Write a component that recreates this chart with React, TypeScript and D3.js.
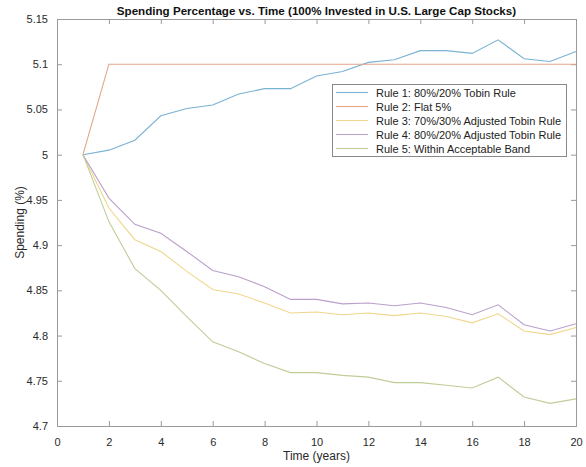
import React, { useEffect, useRef } from "react";
import * as d3 from "d3";

const years = [1, 2, 3, 4, 5, 6, 7, 8, 9, 10, 11, 12, 13, 14, 15, 16, 17, 18, 19, 20];
const rule1 = [5.0, 5.005, 5.016, 5.043, 5.051, 5.055, 5.067, 5.073, 5.073, 5.087, 5.092, 5.102, 5.105, 5.115, 5.115, 5.112, 5.127, 5.106, 5.103, 5.114];
const rule2 = [5.0, 5.1, 5.1, 5.1, 5.1, 5.1, 5.1, 5.1, 5.1, 5.1, 5.1, 5.1, 5.1, 5.1, 5.1, 5.1, 5.1, 5.1, 5.1, 5.1];
const rule3 = [5.0, 4.941, 4.906, 4.893, 4.871, 4.851, 4.846, 4.836, 4.825, 4.826, 4.823, 4.825, 4.822, 4.825, 4.821, 4.814, 4.824, 4.805, 4.801, 4.809];
const rule4 = [5.0, 4.952, 4.923, 4.913, 4.893, 4.872, 4.865, 4.854, 4.840, 4.840, 4.835, 4.836, 4.833, 4.836, 4.831, 4.823, 4.834, 4.812, 4.805, 4.813];
const rule5 = [5.0, 4.926, 4.874, 4.850, 4.821, 4.793, 4.782, 4.769, 4.759, 4.759, 4.756, 4.754, 4.748, 4.748, 4.745, 4.742, 4.754, 4.732, 4.725, 4.730];
const seriesNames = [
  "Rule 1: 80%/20% Tobin Rule",
  "Rule 2: Flat 5%",
  "Rule 3: 70%/30% Adjusted Tobin Rule",
  "Rule 4: 80%/20% Adjusted Tobin Rule",
  "Rule 5: Within Acceptable Band",
];
const seriesColors = ["#79b2d2", "#e2a58a", "#f0d68c", "#baa0ca", "#bfcd98"];
const xTicks = [0, 2, 4, 6, 8, 10, 12, 14, 16, 18, 20];
const yTicks = [4.7, 4.75, 4.8, 4.85, 4.9, 4.95, 5, 5.05, 5.1, 5.15];
const titleText = "Spending Percentage vs. Time (100% Invested in U.S. Large Cap Stocks)";
const xLabel = "Time (years)";
const yLabel = "Spending (%)";

const W = 586;
const H = 467;
const m = { left: 57, right: 576, top: 19, bottom: 426 };
const FONT = "'Liberation Sans', Arial, Helvetica, sans-serif";

export default function App() {
  const ref = useRef<SVGSVGElement | null>(null);
  useEffect(() => {
    const svg = d3.select(ref.current);
    svg.selectAll("*").remove();
    const x = d3.scaleLinear().domain([0, 20]).range([m.left, m.right]);
    const y = d3.scaleLinear().domain([4.7, 5.15]).range([m.bottom, m.top]);
    const allSeries = [rule1, rule2, rule3, rule4, rule5];

    svg.append("rect").attr("x", 0).attr("y", 0).attr("width", W).attr("height", H).attr("fill", "#fff");

    const axisColor = "#9a9a9a";
    const tl = 5;
    const gb = svg.append("g").attr("transform", `translate(0,${m.bottom})`)
      .call(d3.axisBottom(x).tickValues(xTicks).tickSize(-tl).tickPadding(tl + 7).tickFormat(d3.format("d")));
    const gt = svg.append("g").attr("transform", `translate(0,${m.top})`)
      .call(d3.axisTop(x).tickValues(xTicks).tickSize(-tl).tickFormat(() => ""));
    const gl = svg.append("g").attr("transform", `translate(${m.left},0)`)
      .call(d3.axisLeft(y).tickValues(yTicks).tickSize(-tl).tickPadding(tl + 4).tickFormat((d: any) => String(+d)));
    const gr = svg.append("g").attr("transform", `translate(${m.right},0)`)
      .call(d3.axisRight(y).tickValues(yTicks).tickSize(-tl).tickFormat(() => ""));
    [gb, gt, gl, gr].forEach((g) => {
      g.select(".domain").attr("stroke", axisColor).attr("stroke-width", 1);
      g.selectAll(".tick line").attr("stroke", axisColor);
      g.selectAll("text").attr("fill", "#2a2a2a").style("font-family", FONT).style("font-size", "11px");
    });

    const line = d3.line<number>().x((_, i) => x(years[i])).y((d) => y(d));
    allSeries.forEach((s, i) => {
      svg.append("path").datum(s).attr("d", line).attr("fill", "none")
        .attr("stroke", seriesColors[i]).attr("stroke-width", 1.1);
    });

    svg.append("text").attr("x", (m.left + m.right) / 2).attr("y", 15).attr("text-anchor", "middle")
      .style("font-family", FONT).style("font-size", "11.6px").style("font-weight", "bold").attr("fill", "#111")
      .text(titleText);
    svg.append("text").attr("x", (m.left + m.right) / 2).attr("y", 460).attr("text-anchor", "middle")
      .style("font-family", FONT).style("font-size", "12px").attr("fill", "#2a2a2a").text(xLabel);
    svg.append("text").attr("transform", `translate(24,${(m.top + m.bottom) / 2}) rotate(-90)`).attr("text-anchor", "middle")
      .style("font-family", FONT).style("font-size", "12px").attr("fill", "#2a2a2a").text(yLabel);

    const lg = svg.append("g");
    lg.append("rect").attr("x", 332.5).attr("y", 84.5).attr("width", 234).attr("height", 72)
      .attr("fill", "#fff").attr("stroke", "#8a8a8a").attr("stroke-width", 1);
    seriesNames.forEach((name, i) => {
      const yy = 92.5 + i * 14;
      lg.append("line").attr("x1", 336).attr("x2", 368).attr("y1", yy).attr("y2", yy)
        .attr("stroke", seriesColors[i]).attr("stroke-width", 1.1);
      lg.append("text").attr("x", 376).attr("y", yy + 4).style("font-family", FONT).style("font-size", "11px")
        .attr("fill", "#222").text(name);
    });
  }, []);
  return (
    <svg ref={ref} width={W} height={H} style={{ position: "absolute", left: 0, top: 0, display: "block" }} />
  );
}
